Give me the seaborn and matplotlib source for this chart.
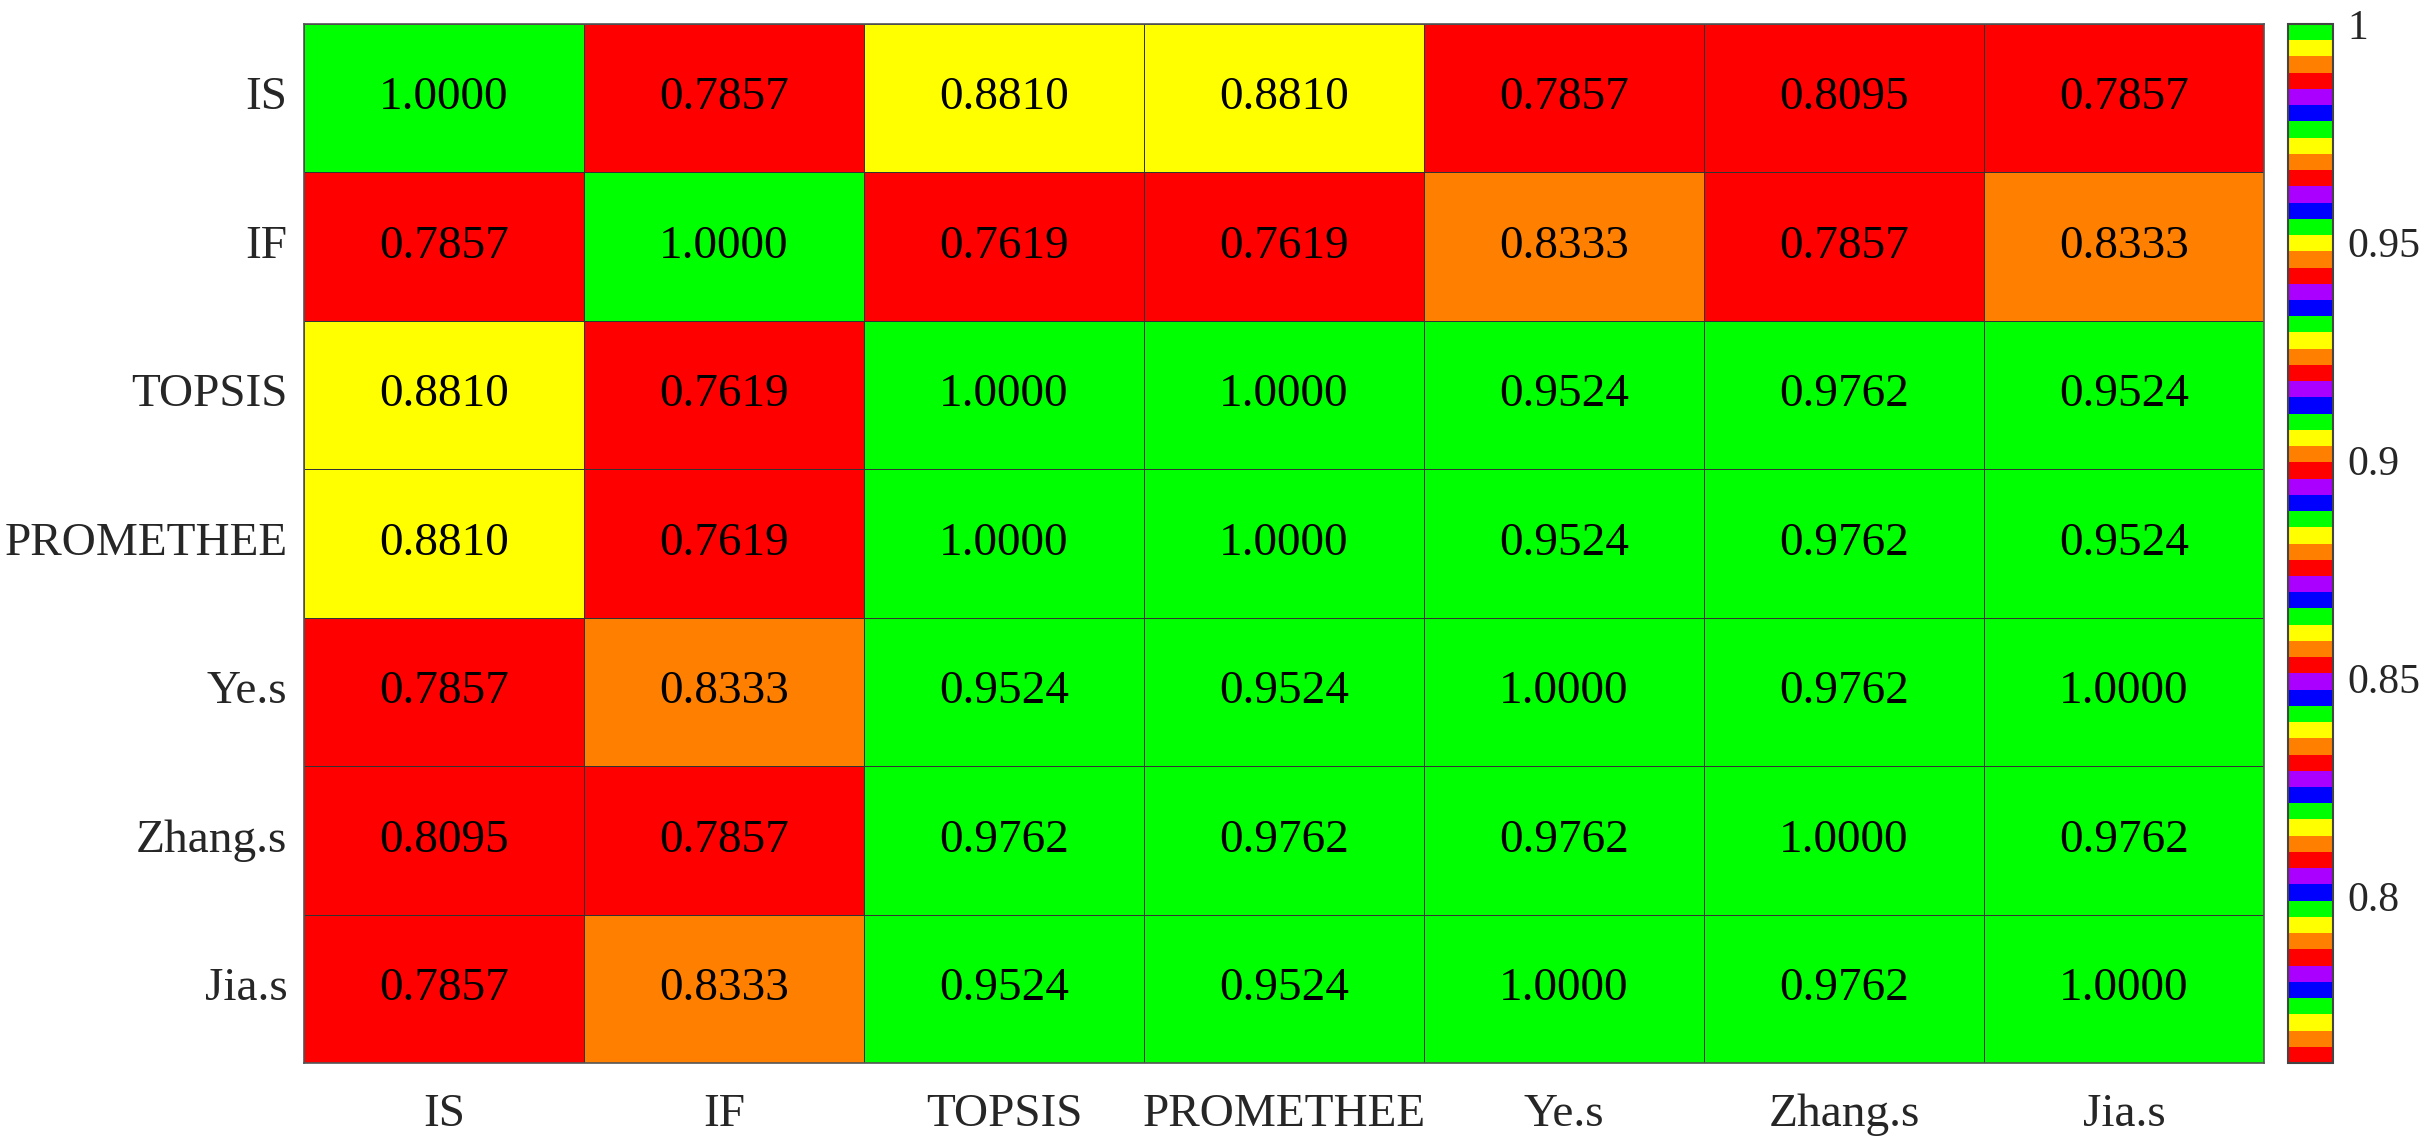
import numpy as np
import pandas as pd
import matplotlib
matplotlib.use("Agg")
import matplotlib.pyplot as plt
from matplotlib.colors import ListedColormap
import seaborn as sns

methods = ["IS", "IF", "TOPSIS", "PROMETHEE", "Ye.s", "Zhang.s", "Jia.s"]
row_IS = [1.0000, 0.7857, 0.8810, 0.8810, 0.7857, 0.8095, 0.7857]
row_IF = [0.7857, 1.0000, 0.7619, 0.7619, 0.8333, 0.7857, 0.8333]
row_TOPSIS = [0.8810, 0.7619, 1.0000, 1.0000, 0.9524, 0.9762, 0.9524]
row_PROMETHEE = [0.8810, 0.7619, 1.0000, 1.0000, 0.9524, 0.9762, 0.9524]
row_Ye = [0.7857, 0.8333, 0.9524, 0.9524, 1.0000, 0.9762, 1.0000]
row_Zhang = [0.8095, 0.7857, 0.9762, 0.9762, 0.9762, 1.0000, 0.9762]
row_Jia = [0.7857, 0.8333, 0.9524, 0.9524, 1.0000, 0.9762, 1.0000]
cbar_ticks = [0.8, 0.85, 0.9, 0.95, 1.0]
cbar_ticklabels = ["0.8", "0.85", "0.9", "0.95", "1"]

df = pd.DataFrame([row_IS, row_IF, row_TOPSIS, row_PROMETHEE, row_Ye, row_Zhang, row_Jia],
                  index=methods, columns=methods)

sns.set_theme(style="white")
plt.rcParams["font.family"] = ["Liberation Serif", "DejaVu Serif"]

cycle = ["#FF0000", "#FF8000", "#FFFF00", "#00FF00", "#0000FF", "#AA00FF"]
cmap = ListedColormap([cycle[i % 6] for i in range(64)])

fig = plt.figure(figsize=(24.35, 11.48), dpi=100)
ax = fig.add_axes([304/2435, 85/1148, 1960/2435, 1039/1148])
cax = fig.add_axes([2288/2435, 85/1148, 45/2435, 1039/1148])

sns.heatmap(df, ax=ax, cbar_ax=cax, cmap=cmap, vmin=0.7619, vmax=1.0,
            annot=True, fmt=".4f", annot_kws={"size": 34, "color": "black"},
            linewidths=0.7, linecolor="#333333", cbar=True)

ax.tick_params(axis="both", length=0, labelsize=34, colors="#262626")
ax.tick_params(axis="x", pad=22)
ax.tick_params(axis="y", pad=12)
ax.set_yticklabels(methods, rotation=0)
ax.set_xticklabels(methods, rotation=0)
for s in ax.spines.values():
    s.set_visible(True)
    s.set_color("#555555")
    s.set_linewidth(1.2)

cb = ax.collections[0].colorbar
cb.set_ticks(cbar_ticks)
cb.set_ticklabels(cbar_ticklabels)
cax.tick_params(direction="in", length=10, width=1.2, labelsize=30, colors="#262626", pad=10)
cb.outline.set_edgecolor("#444444")
cb.outline.set_linewidth(1.5)

fig.savefig("out.png", dpi=100)
